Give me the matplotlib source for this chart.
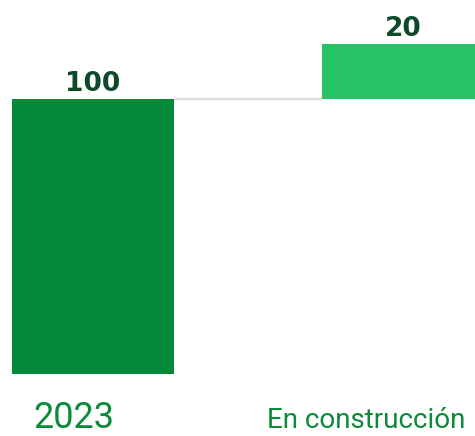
import matplotlib
matplotlib.use("Agg")
import matplotlib.pyplot as plt

categories = ["2023", "En construcción"]
values = [100, 20]
value_labels = ["100", "20"]

bar_colors = ["#038a39", "#27c166"]
label_color = "#0e4a2a"
cat_color = "#0b8a3a"

fig = plt.figure(figsize=(4.75, 4.36), dpi=100)
ax = fig.add_axes([0, 62 / 436, 1, 374 / 436])

width = 0.523
x = [0, 1]
bottoms = [0, values[0]]
ax.bar(x, values, width=width, bottom=bottoms, color=bar_colors, linewidth=0)

# connector between the two bars
ax.plot([x[0] + width / 2, x[1] - width / 2], [values[0], values[0]],
        color="#dcdcdc", lw=1.6, solid_capstyle="butt")

for xi, b, v, lab in zip(x, bottoms, values, value_labels):
    ax.text(xi, b + v + 2.9, lab, ha="center", va="baseline", fontsize=19,
            fontweight="bold", color=label_color, family="DejaVu Sans")

ax.set_xlim(-0.3, 1.232)
ax.set_ylim(0, 136)
ax.axis("off")

fig.text(74 / 475, 1 - 428 / 436, categories[0], ha="center", va="baseline",
         fontsize=26, color=cat_color, family="Roboto")
fig.text(366 / 475, 1 - 428 / 436, categories[1], ha="center", va="baseline",
         fontsize=20, color=cat_color, family="Roboto")

fig.savefig("out.png", dpi=100)
